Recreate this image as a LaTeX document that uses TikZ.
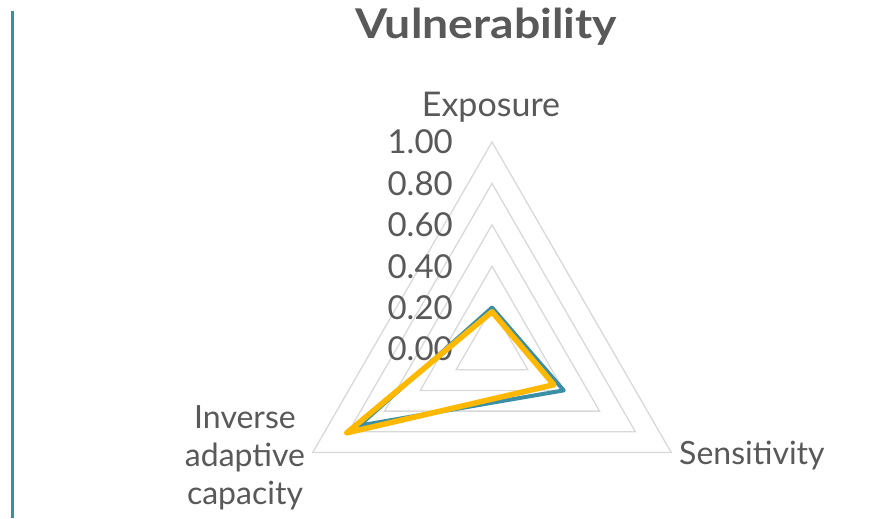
\documentclass[tikz,border=0pt]{standalone}
\usepackage{fontspec}
\setmainfont{Lato}
\definecolor{txtgray}{HTML}{595959}
\definecolor{gridgray}{HTML}{D9D9D9}
\definecolor{seriesteal}{HTML}{3A8FA6}
\definecolor{seriesgold}{HTML}{FFB800}
\begin{document}
\begin{tikzpicture}[x=1pt,y=-1pt,
  axislabel/.style={text=txtgray,font=\fontsize{32}{38}\selectfont,inner sep=0pt,align=center},
  ticklabel/.style={text=txtgray,font=\fontsize{33}{38}\selectfont,inner sep=0pt,anchor=east},
  gridline/.style={draw=gridgray,line width=1.3pt},
  series/.style={line join=round,line cap=round}]
\useasboundingbox (0,0) rectangle (878,519);
\fill[white] (0,0) rectangle (878,519);
% left rule
\draw[seriesteal,line width=3pt] (12.5,11) -- (12.5,518);
% title
\node[text=txtgray,font=\bfseries\fontsize{41}{46}\selectfont,inner sep=0pt,xscale=1.13] (title) at (486,27) {Vulnerability};
% chart centre and radius
\def\cx{492}\def\cy{349}\def\R{207}
\coordinate (c) at (\cx,\cy);
% grid triangles
\foreach \k in {0.2,0.4,0.6,0.8,1.0}{
  \draw[gridline] (\cx,\cy-\k*\R) -- (\cx+0.866*\k*\R,\cy+0.5*\k*\R) -- (\cx-0.866*\k*\R,\cy+0.5*\k*\R) -- cycle;
}
% tick labels
\foreach \v/\t in {0/0.00,0.2/0.20,0.4/0.40,0.6/0.60,0.8/0.80,1.0/1.00}{
  \node[ticklabel] (tick\t) at (453,\cy-\v*\R) {\t};
}
% axis labels
\node[axislabel,font=\fontsize{34}{40}\selectfont] (exposure) at (491,107) {Exposure};
\node[axislabel,anchor=west] (sensitivity) at (679,456) {Sensitivity};
\node[axislabel] (iac) at (245,458) {Inverse\\adaptive\\capacity};
% series A
\draw[series,seriesteal,line width=4pt]
  (\cx,\cy-0.20*\R) -- (\cx+0.866*0.40*\R,\cy+0.5*0.40*\R) -- (\cx-0.866*0.74*\R,\cy+0.5*0.74*\R) -- cycle;
% series B
\draw[series,seriesgold,line width=5.5pt]
  (\cx,\cy-0.18*\R) -- (\cx+0.866*0.345*\R,\cy+0.5*0.345*\R) -- (\cx-0.866*0.81*\R,\cy+0.5*0.81*\R) -- cycle;
\end{tikzpicture}
\end{document}
